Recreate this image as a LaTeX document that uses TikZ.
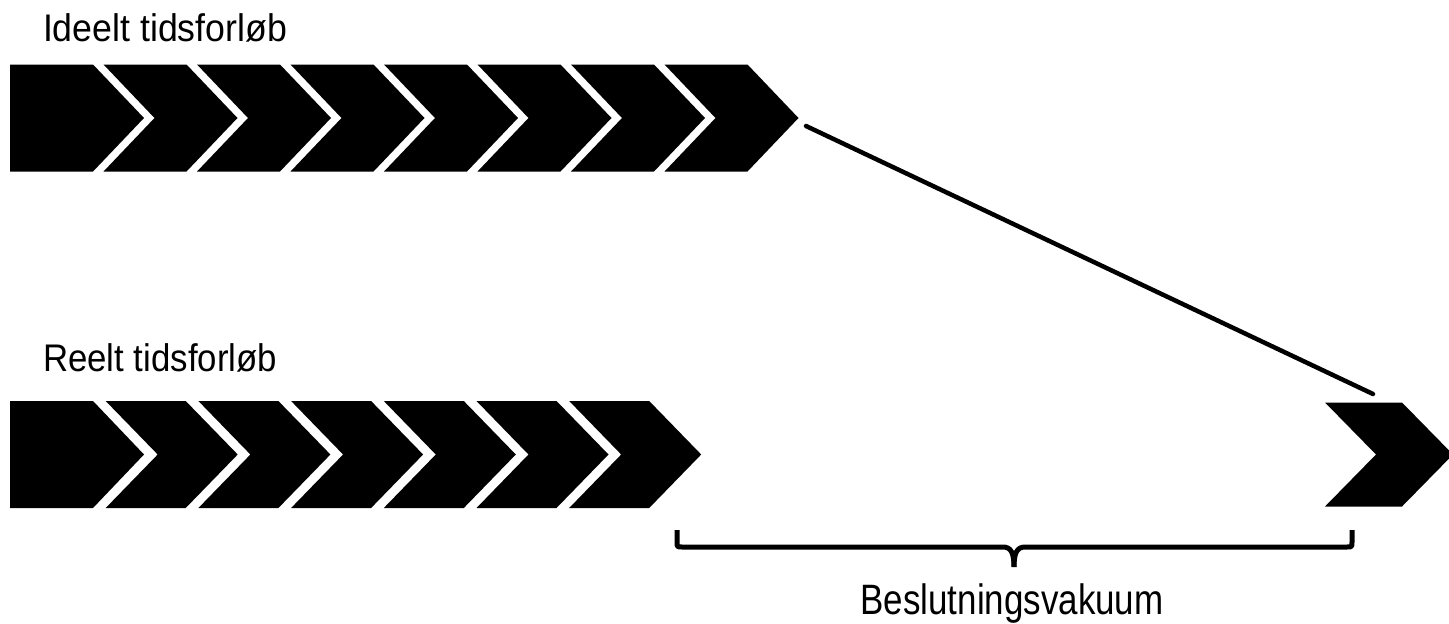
\documentclass[tikz,border=0pt]{standalone}
\usepackage{fontspec}
\setmainfont{Liberation Sans}
\newcommand\cndtext[3]{\scalebox{#1}[1]{\fontsize{#2}{#2}\selectfont #3}}
\begin{document}
\begin{tikzpicture}[x=1pt,y=-1pt,
  chev/.style={fill=black},
  link/.style={line width=4.5pt,line cap=round},
  bracepath/.style={line width=5pt,line join=round},
  lbl/.style={inner sep=0pt,outer sep=0pt}]
\useasboundingbox (0,0) rectangle (1449,624);
\clip (0,0) rectangle (1449,624);
% ideal row
\def\rT{64.5}\def\rB{171.5}\def\rM{118}
\fill[chev] (10,\rT) -- (93,\rT) -- (144,\rM) -- (93,\rB) -- (10,\rB) -- cycle;
\foreach \i in {1,...,7}{
  \pgfmathsetmacro\cx{93+93.5*\i}
  \pgfmathsetmacro\nx{\cx-83}
  \fill[chev] (\nx,\rT) -- (\cx,\rT) -- ({\cx+51},\rM) -- (\cx,\rB) -- (\nx,\rB) -- ({\nx+51},\rM) -- cycle;
}
% real row
\def\sT{401}\def\sB{508}\def\sM{454.5}
\fill[chev] (10,\sT) -- (93,\sT) -- (144,\sM) -- (93,\sB) -- (10,\sB) -- cycle;
\foreach \i in {1,...,6}{
  \pgfmathsetmacro\cx{93+92.7*\i}
  \pgfmathsetmacro\nx{\cx-80}
  \fill[chev] (\nx,\sT) -- (\cx,\sT) -- ({\cx+52},\sM) -- (\cx,\sB) -- (\nx,\sB) -- ({\nx+52},\sM) -- cycle;
}
% lone chevron
\fill[chev] (1325,402.5) -- (1402,402.5) -- (1453,454.5) -- (1402,506.5) -- (1325,506.5) -- (1376,454.5) -- cycle;
% connector
\coordinate (lnA) at (806,126);
\coordinate (lnB) at (1373,394);
\draw[link] (lnA) -- (lnB);
% brace
\coordinate (brL) at (677,530);
\coordinate (brR) at (1352,530);
\coordinate (brTip) at (1014,567);
\draw[bracepath] (brL) -- (677,542) .. controls (677,547) .. (682,547) -- (1003,547) .. controls (1011,547) and (1014,553) .. (brTip);
\draw[bracepath] (brR) -- (1352,542) .. controls (1352,547) .. (1347,547) -- (1025,547) .. controls (1017,547) and (1014,553) .. (brTip);
% labels
\node[lbl,anchor=base west] (ideal) at (43,41) {\cndtext{0.927}{38.5}{Ideelt tidsforløb}};
\node[lbl,anchor=base west] (real) at (43,371) {\cndtext{0.904}{38.5}{Reelt tidsforløb}};
\node[lbl,anchor=base] (vac) at (1012,614) {\cndtext{0.822}{42.5}{Beslutningsvakuum}};
\end{tikzpicture}
\end{document}
